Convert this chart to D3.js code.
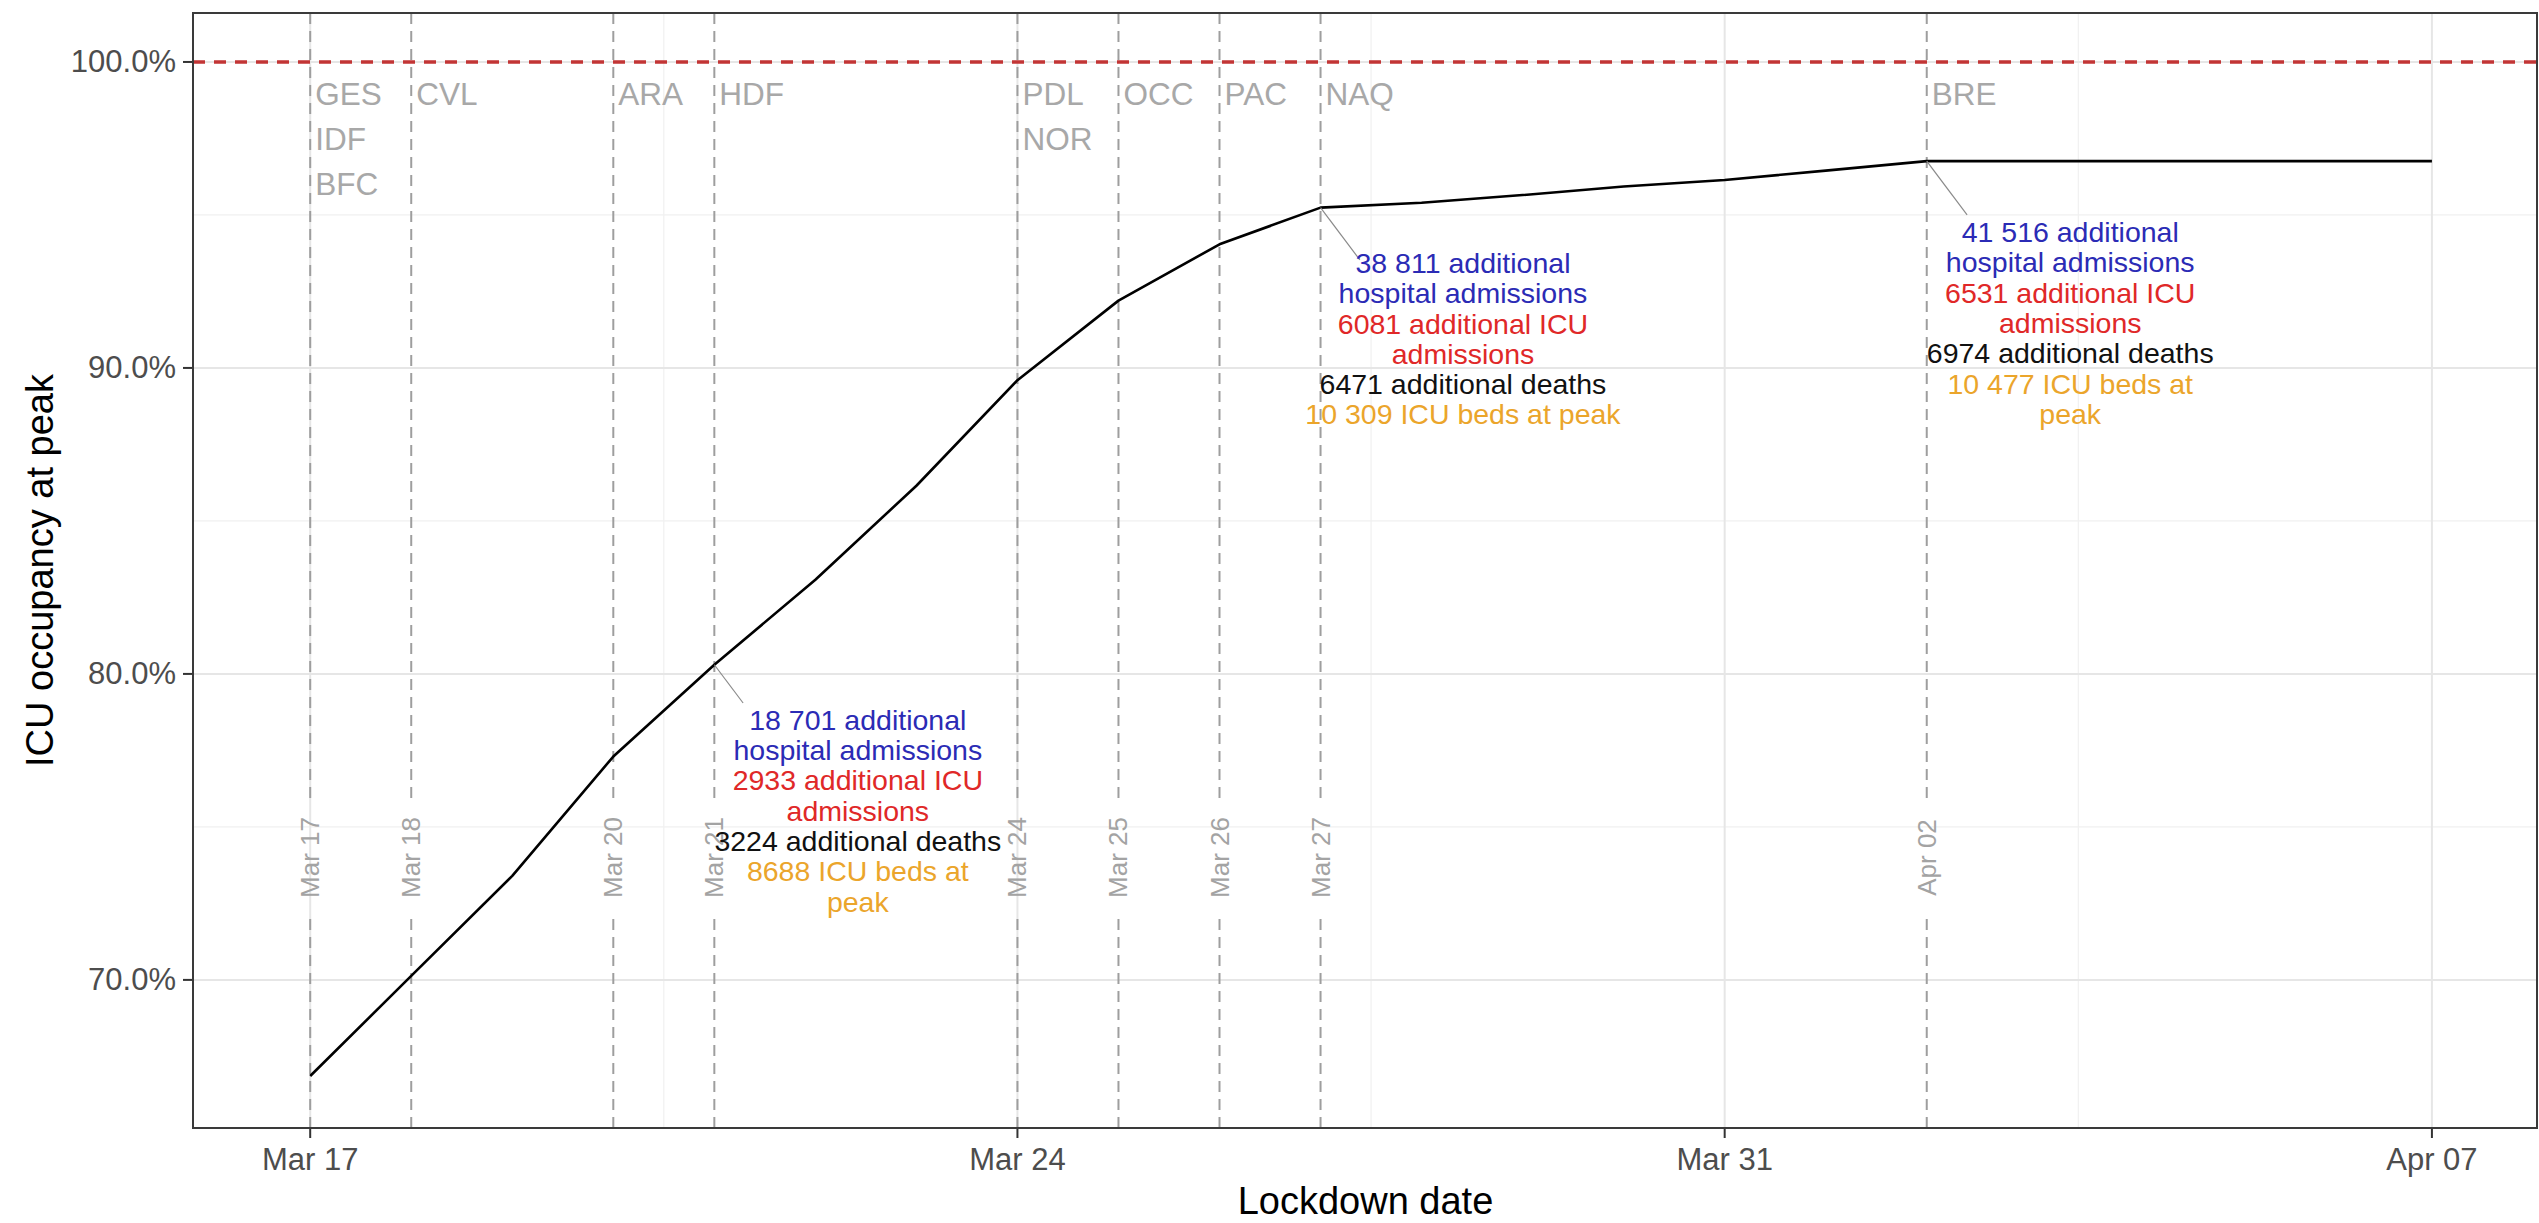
<!DOCTYPE html>
<html>
<head>
<meta charset="utf-8">
<script src="https://cdn.jsdelivr.net/npm/d3@7"></script>
<style>
  html, body { margin: 0; padding: 0; background: #ffffff; }
  svg { display: block; font-family: "Liberation Sans", Arial, Helvetica, sans-serif; }
</style>
</head>
<body>
<svg id="chart" width="2539" height="1223"></svg>
<script>
// ---------------- DATA ----------------
const dates = ["2020-03-17","2020-03-18","2020-03-19","2020-03-20","2020-03-21","2020-03-22","2020-03-23",
  "2020-03-24","2020-03-25","2020-03-26","2020-03-27","2020-03-28","2020-03-29","2020-03-30","2020-03-31",
  "2020-04-01","2020-04-02","2020-04-03","2020-04-04","2020-04-05","2020-04-06","2020-04-07"];
const occupancy = [66.86, 70.13, 73.4, 77.3, 80.3, 83.08, 86.15,
  89.6, 92.2, 94.04, 95.24, 95.4, 95.65, 95.93, 96.14,
  96.45, 96.76, 96.76, 96.76, 96.76, 96.76, 96.76];

const lockdownDates   = ["2020-03-17","2020-03-18","2020-03-20","2020-03-21","2020-03-24","2020-03-25","2020-03-26","2020-03-27","2020-04-02"];
const lockdownRegions = [["GES","IDF","BFC"],["CVL"],["ARA"],["HDF"],["PDL","NOR"],["OCC"],["PAC"],["NAQ"],["BRE"]];
const lockdownLabels  = ["Mar 17","Mar 18","Mar 20","Mar 21","Mar 24","Mar 25","Mar 26","Mar 27","Apr 02"];

const xTickDates  = ["2020-03-17","2020-03-24","2020-03-31","2020-04-07"];
const xTickLabels = ["Mar 17","Mar 24","Mar 31","Apr 07"];
const xMinorDates = ["2020-03-20T12:00","2020-03-27T12:00","2020-04-03T12:00"];
const yTicks      = [70, 80, 90, 100];
const yTickLabels = ["70.0%","80.0%","90.0%","100.0%"];
const yMinor      = [75, 85, 95];
const capacityLine = 100;
const dateLabelY   = 74;     // % level at which rotated date labels sit
const regionLabelY = 98.6;   // % level of first region label baseline

// annotations (ggrepel-like)
const annDates     = ["2020-03-21","2020-03-27","2020-04-02"];
const annLabelX    = ["2020-03-22T10:05","2020-03-28T09:50","2020-04-03T10:05"];
const annLabelY    = [78.5, 93.43, 94.44];
const annSegEndX   = ["2020-03-21T06:50","2020-03-27T09:20","2020-04-02T09:35"];
const annSegEndY   = [79.05, 93.53, 95.0];
const annHosp   = [["18 701 additional","hospital admissions"],["38 811 additional","hospital admissions"],["41 516 additional","hospital admissions"]];
const annICU    = [["2933 additional ICU","admissions"],["6081 additional ICU","admissions"],["6531 additional ICU","admissions"]];
const annDeaths = [["3224 additional deaths"],["6471 additional deaths"],["6974 additional deaths"]];
const annBeds   = [["8688 ICU beds at","peak"],["10 309 ICU beds at peak"],["10 477 ICU beds at","peak"]];
const annColors = ["#2b2bb5","#e02828","#111111","#eba52b"];

// ---------------- LAYOUT ----------------
const W = 2539, H = 1223;
const panel = {left: 193, right: 2538, top: 13, bottom: 1128};
const parse = s => new Date(s.length > 10 ? s + ":00Z" : s + "T00:00:00Z");
const DAY = 86400000;

const x = d3.scaleUtc()
  .domain([new Date(parse("2020-03-17").getTime() - 1.16 * DAY), new Date(parse("2020-04-07").getTime() + 1.05 * DAY)])
  .range([panel.left, panel.right]);
const y = d3.scaleLinear().domain([65.16, 101.6]).range([panel.bottom, panel.top]);

const svg = d3.select("#chart");
svg.append("rect").attr("width", W).attr("height", H).attr("fill", "#ffffff");

// ---------------- GRID ----------------
const grid = svg.append("g");
grid.selectAll(".ymin").data(yMinor).join("line")
  .attr("x1", panel.left).attr("x2", panel.right)
  .attr("y1", d => y(d)).attr("y2", d => y(d))
  .attr("stroke", "#f0f0f0").attr("stroke-width", 1.2);
grid.selectAll(".xmin").data(xMinorDates).join("line")
  .attr("x1", d => x(parse(d))).attr("x2", d => x(parse(d)))
  .attr("y1", panel.top).attr("y2", panel.bottom)
  .attr("stroke", "#f0f0f0").attr("stroke-width", 1.2);
grid.selectAll(".ymaj").data(yTicks).join("line")
  .attr("x1", panel.left).attr("x2", panel.right)
  .attr("y1", d => y(d)).attr("y2", d => y(d))
  .attr("stroke", "#e6e6e6").attr("stroke-width", 2);
grid.selectAll(".xmaj").data(xTickDates).join("line")
  .attr("x1", d => x(parse(d))).attr("x2", d => x(parse(d)))
  .attr("y1", panel.top).attr("y2", panel.bottom)
  .attr("stroke", "#e6e6e6").attr("stroke-width", 2);

// ---------------- VERTICAL LOCKDOWN LINES ----------------
const gapHalf = 58;
const vg = svg.append("g");
lockdownDates.forEach(d => {
  const xx = x(parse(d));
  const yc = y(dateLabelY);
  vg.append("line").attr("x1", xx).attr("x2", xx)
    .attr("y1", panel.top).attr("y2", yc - gapHalf)
    .attr("stroke", "#9e9e9e").attr("stroke-width", 2).attr("stroke-dasharray", "11,7");
  vg.append("line").attr("x1", xx).attr("x2", xx)
    .attr("y1", panel.bottom).attr("y2", yc + gapHalf)
    .attr("stroke", "#9e9e9e").attr("stroke-width", 2).attr("stroke-dasharray", "11,7");
});

// ---------------- CAPACITY LINE ----------------
svg.append("line")
  .attr("x1", panel.left).attr("x2", panel.right)
  .attr("y1", y(capacityLine)).attr("y2", y(capacityLine))
  .attr("stroke", "#c23535").attr("stroke-width", 3.5).attr("stroke-dasharray", "12,9");

// ---------------- DATA LINE ----------------
const series = dates.map((d, i) => ({date: parse(d), v: occupancy[i]}));
svg.append("path").datum(series)
  .attr("fill", "none").attr("stroke", "#000").attr("stroke-width", 2.6)
  .attr("stroke-linejoin", "round")
  .attr("d", d3.line().x(d => x(d.date)).y(d => y(d.v)));

// ---------------- REGION LABELS ----------------
const rg = svg.append("g").attr("font-size", 31.5).attr("fill", "#a8a8a8");
lockdownDates.forEach((d, i) => {
  lockdownRegions[i].forEach((r, j) => {
    rg.append("text").attr("x", x(parse(d)) + 5).attr("y", y(regionLabelY) + j * 45).text(r);
  });
});

// ---------------- ROTATED DATE LABELS ----------------
const dg = svg.append("g").attr("font-size", 26).attr("fill", "#a3a3a3");
lockdownDates.forEach((d, i) => {
  const xx = x(parse(d)), yy = y(dateLabelY);
  dg.append("text")
    .attr("transform", `translate(${xx},${yy}) rotate(-90)`)
    .attr("text-anchor", "middle").attr("dominant-baseline", "central")
    .text(lockdownLabels[i]);
});

// ---------------- ANNOTATIONS ----------------
const ag = svg.append("g");
annDates.forEach((d, i) => {
  const pIdx = dates.indexOf(d);
  ag.append("line")
    .attr("x1", x(parse(d))).attr("y1", y(occupancy[pIdx]))
    .attr("x2", x(parse(annSegEndX[i]))).attr("y2", y(annSegEndY[i]))
    .attr("stroke", "#8a8a8a").attr("stroke-width", 1.2);
  const groups = [annHosp[i], annICU[i], annDeaths[i], annBeds[i]];
  let k = 0;
  const cx = x(parse(annLabelX[i])), y0 = y(annLabelY[i]);
  groups.forEach((lines, g) => {
    lines.forEach(t => {
      ag.append("text").attr("x", cx).attr("y", y0 + k * 30.3)
        .attr("text-anchor", "middle").attr("dominant-baseline", "central")
        .attr("font-size", 28.5).attr("fill", annColors[g]).text(t);
      k++;
    });
  });
});

// ---------------- AXES ----------------
const ax = svg.append("g");
ax.selectAll(".yt").data(yTicks).join("line")
  .attr("x1", panel.left - 10).attr("x2", panel.left)
  .attr("y1", d => y(d)).attr("y2", d => y(d))
  .attr("stroke", "#333").attr("stroke-width", 2);
ax.selectAll(".ytl").data(yTicks).join("text")
  .attr("x", panel.left - 17).attr("y", d => y(d))
  .attr("text-anchor", "end").attr("dominant-baseline", "central")
  .attr("font-size", 31).attr("fill", "#4d4d4d")
  .text((d, i) => yTickLabels[i]);
ax.selectAll(".xt").data(xTickDates).join("line")
  .attr("x1", d => x(parse(d))).attr("x2", d => x(parse(d)))
  .attr("y1", panel.bottom).attr("y2", panel.bottom + 10)
  .attr("stroke", "#333").attr("stroke-width", 2);
ax.selectAll(".xtl").data(xTickDates).join("text")
  .attr("x", d => x(parse(d))).attr("y", panel.bottom + 42)
  .attr("text-anchor", "middle")
  .attr("font-size", 31).attr("fill", "#4d4d4d")
  .text((d, i) => xTickLabels[i]);

svg.append("text").attr("x", (panel.left + panel.right) / 2).attr("y", 1201)
  .attr("text-anchor", "middle").attr("dominant-baseline", "central")
  .attr("font-size", 38).attr("fill", "#000").text("Lockdown date");
svg.append("text")
  .attr("transform", `translate(40,${(panel.top + panel.bottom) / 2}) rotate(-90)`)
  .attr("text-anchor", "middle").attr("dominant-baseline", "central")
  .attr("font-size", 38).attr("fill", "#000").text("ICU occupancy at peak");

svg.append("rect")
  .attr("x", panel.left).attr("y", panel.top)
  .attr("width", panel.right - panel.left - 1).attr("height", panel.bottom - panel.top)
  .attr("fill", "none").attr("stroke", "#3a3a3a").attr("stroke-width", 2);
</script>
</body>
</html>
